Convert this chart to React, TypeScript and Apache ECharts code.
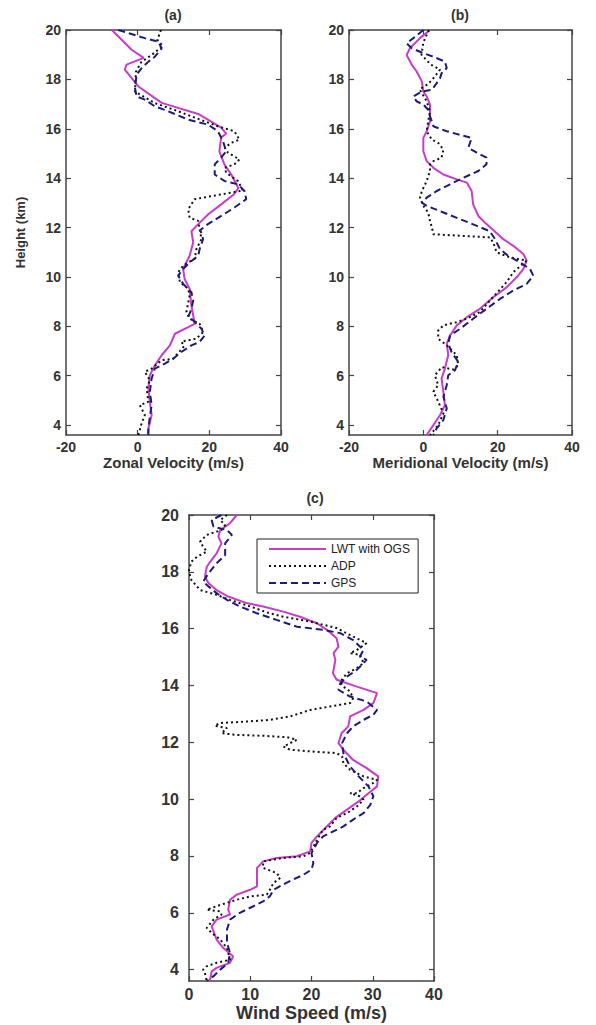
import React, { useEffect, useRef } from "react";
import * as echarts from "echarts";

const SERIES_NAMES = ["LWT with OGS", "ADP", "GPS"];
const HEIGHT_TICKS = [4, 6, 8, 10, 12, 14, 16, 18, 20];
const PANEL_TITLES = ["(a)", "(b)", "(c)"];
const X_NAMES = ["Zonal Velocity (m/s)", "Meridional Velocity (m/s)", "Wind Speed (m/s)"];
const Y_NAME = "Height (km)";

// [velocity (m/s), height (km)]
const zonalLWT: number[][] = [
  [-7.2, 20], [-1.7, 19.2], [1.7, 18.87], [-3.1, 18.6], [-3.6, 18.4], [-2.5, 18.2], [0.3, 17.7], [6.7, 17.05],
  [16.9, 16.6], [23.3, 16.05], [24.7, 15.8], [23.3, 15.65], [22.8, 15.08], [24.2, 14.56], [26.1, 14.15],
  [28.1, 13.6], [26.9, 13.35], [23.3, 12.94], [19.7, 12.54], [16.9, 12.14], [15, 11.85], [15.5, 11.4],
  [14.5, 10.86], [12.7, 10.32], [13.1, 9.92], [14.5, 9.52], [15, 8.84], [15.5, 8.44], [15.9, 8.1], [14.1, 7.97],
  [10.4, 7.7], [9, 7.23], [6.7, 6.83], [4.8, 6.42], [3.4, 6.02], [3, 5.48], [3.4, 4.95], [3.9, 4.4], [3, 3.87], [2.8, 3.6],
];
const zonalADP: number[][] = [
  [6.5, 20], [5.5, 19.6], [7, 19.35], [4, 19.0], [1, 18.7], [-0.5, 18.3], [-0.75, 17.5], [4.8, 17.04], [11.3, 16.71],
  [18.7, 16.3], [22.4, 16.1], [27, 15.9], [28.4, 15.56], [26.1, 15.43], [24.3, 15.23], [25.2, 15.03], [28.4, 14.76],
  [27, 14.56], [24.3, 14.42], [24.7, 14.22], [28, 13.88], [29.4, 13.5], [15.9, 13.15], [14.1, 12.74], [14.5, 12.4],
  [16.9, 12.27], [17.3, 11.94], [17.8, 11.53], [16.4, 11.13], [15.9, 10.73], [12.7, 10.46], [11.3, 10.19], [11.8, 9.79],
  [14.1, 9.52], [14.5, 9.25], [13.6, 8.58], [14.5, 8.31], [17.3, 8.1], [18.3, 7.77], [16.4, 7.5], [12.2, 7.38], [13, 7.2],
  [9.9, 6.69], [6.7, 6.63], [3.9, 6.29], [2, 6.16], [3.4, 5.82], [2.5, 5.48], [3, 4.95], [0.6, 4.81], [2, 4.41],
  [1.1, 4.07], [0.2, 3.6],
];
const zonalGPS: number[][] = [
  [-5.4, 20], [2, 19.67], [5.75, 19.53], [6.7, 19.26], [4.8, 18.92], [3, 18.72], [1.1, 18.46], [-0.3, 18.19],
  [-0.75, 17.65], [-0.3, 17.31], [2, 17.18], [4.8, 16.91], [8.5, 16.71], [14.1, 16.37], [19.6, 16.17], [22.4, 15.9],
  [23.8, 15.5], [24.7, 15.09], [23.3, 14.83], [21.5, 14.56], [21.5, 14.15], [24.3, 13.88], [28, 13.75], [29.8, 13.48],
  [30.3, 13.15], [27, 12.81], [23.3, 12.47], [19.6, 12.14], [17.5, 11.9], [18.25, 11.53], [17.3, 11.13], [16.9, 10.86],
  [14.5, 10.59], [12.7, 10.32], [11.3, 10.05], [12.7, 9.72], [15, 9.38], [15.5, 9.04], [15, 8.71], [14.1, 8.37],
  [15.5, 8.24], [17.8, 7.9], [18.7, 7.63], [17.3, 7.37], [15, 7.23], [12.2, 6.96], [9.9, 6.69], [7.6, 6.49], [4.8, 6.29],
  [3.9, 5.89], [3.4, 5.35], [3.9, 4.81], [3.4, 4.34], [3, 3.87], [3, 3.6],
];

const merLWT: number[][] = [
  [1.8, 20], [-0.9, 19.67], [-3.6, 19.26], [-4.5, 18.99], [-3.1, 18.59], [-1.8, 18.32], [-0.4, 17.92], [0, 17.51],
  [0.9, 17.31], [1.8, 16.98], [1.8, 16.3], [0.9, 15.9], [0, 15.63], [0, 15.09], [0.9, 14.69], [2.7, 14.42], [5.4, 14.15],
  [9, 13.95], [11.7, 13.82], [13, 13.48], [13.4, 12.94], [14.8, 12.47], [17, 12.14], [18.8, 11.9], [21.5, 11.53],
  [24.2, 11.26], [26.9, 10.93], [27.8, 10.66], [26.9, 10.32], [25.5, 10.05], [22.4, 9.58], [18.8, 9.18], [15.2, 8.71],
  [11.7, 8.37], [9, 8.04], [7.2, 7.63], [6.3, 7.3], [6.7, 6.83], [5.8, 6.29], [4.9, 5.89], [5.4, 5.35], [5.8, 4.81],
  [4.5, 4.41], [2.7, 4.0], [0.9, 3.6],
];
const merADP: number[][] = [
  [1.5, 20], [0, 19.5], [-0.5, 19.0], [2, 18.6], [4.5, 18.4], [3, 18.1], [1.2, 17.8], [-1, 17.6], [0.9, 17.11],
  [1.8, 16.7], [1.3, 16.3], [0.9, 15.9], [2.3, 15.56], [4, 15.43], [5.4, 15.16], [4.9, 14.83], [2.7, 14.69], [1.8, 14.56],
  [1.8, 14.29], [0.9, 13.88], [-0.4, 13.48], [-0.9, 13.21], [0, 12.88], [1.3, 12.61], [1.8, 12.27], [2.3, 12.0],
  [2.7, 11.73], [17.9, 11.6], [18.8, 11.4], [19.7, 11.0], [23.3, 10.79], [27.8, 10.66], [24.2, 10.19], [22.4, 9.79],
  [17.9, 9.04], [15.2, 8.58], [11.7, 8.31], [9, 8.17], [5.4, 8.04], [4, 7.83], [4, 7.5], [6.3, 7.23], [9, 6.83],
  [9.4, 6.42], [8.1, 6.25], [5, 6.35], [3.1, 6.02], [4, 5.62], [2.7, 5.35], [4, 4.95], [5.4, 4.48], [4, 4.0], [1.8, 3.6],
];
const merGPS: number[][] = [
  [0, 20], [-2.7, 19.67], [-4.5, 19.46], [-3.1, 19.26], [0, 19.06], [2.7, 18.92], [5.8, 18.72], [6.3, 18.46],
  [4.9, 18.25], [4.5, 18.05], [3.6, 17.85], [2.3, 17.58], [-0.4, 17.51], [-2.7, 17.31], [-1.8, 17.11], [0, 16.98],
  [1.3, 16.77], [1.8, 16.5], [2.3, 16.3], [2.7, 16.1], [6.3, 15.9], [13, 15.63], [12.1, 15.23], [14.4, 15.03],
  [17, 14.83], [17, 14.56], [14.8, 14.29], [10.8, 14.02], [7.2, 13.75], [3.6, 13.48], [0.9, 13.21], [-0.4, 13.01],
  [0.9, 12.88], [5.4, 12.61], [9.9, 12.34], [14.4, 12.07], [17.9, 11.85], [19.3, 11.53], [20.6, 11.13], [22.8, 10.86],
  [26, 10.59], [28.7, 10.32], [29.6, 10.05], [27.8, 9.72], [24.2, 9.45], [20.6, 9.11], [17, 8.71], [13.4, 8.31],
  [9.9, 7.9], [7.2, 7.63], [6.7, 7.3], [7.6, 6.96], [9.4, 6.56], [8.5, 6.22], [6.7, 6.02], [6.3, 5.62], [5.4, 5.15],
  [6.3, 4.68], [5.4, 4.21], [3.6, 3.87], [2.7, 3.6],
];

const wsLWT: number[][] = [
  [7.8, 20], [6.7, 19.71], [5.1, 19.47], [4.8, 19.24], [5.3, 19.0], [4.5, 18.65], [3.7, 18.42], [2.9, 18.18],
  [2.6, 17.83], [3.2, 17.6], [4.5, 17.36], [6.4, 17.13], [9.4, 16.9], [12.1, 16.78], [15.4, 16.6], [18.1, 16.42],
  [20.9, 16.19], [22.5, 15.96], [24.1, 15.66], [24.4, 15.37], [23.6, 15.14], [23.9, 14.9], [23.5, 14.43], [24.1, 14.2],
  [27.4, 13.96], [30.7, 13.73], [30.1, 13.38], [28.5, 13.14], [26.3, 12.91], [26, 12.56], [24.9, 12.32], [24.4, 11.97],
  [25.2, 11.74], [26.8, 11.38], [29, 11.09], [30.9, 10.8], [30.7, 10.45], [29.3, 10.21], [27.7, 9.92], [25.8, 9.63],
  [23.9, 9.34], [22.5, 9.04], [20.9, 8.69], [20, 8.46], [19.8, 8.16], [17.6, 7.99], [14.3, 7.93], [12.1, 7.81],
  [11.1, 7.58], [11.1, 6.93], [10, 6.81], [7.8, 6.64], [6.7, 6.46], [6.4, 6.11], [6.7, 5.94], [4.5, 5.76], [3.7, 5.52],
  [4.5, 5.06], [5.6, 4.76], [7.2, 4.47], [6.7, 4.24], [4.5, 4.06], [3.7, 3.94], [3.4, 3.6],
];
const wsADP: number[][] = [
  [6.2, 20], [5.1, 19.82], [5.9, 19.65], [5.3, 19.47], [2.9, 19.3], [1.8, 19.06], [2.3, 18.89], [2.9, 18.71],
  [1.3, 18.53], [0.4, 18.36], [0, 18.07], [0.2, 17.83], [0.4, 17.71], [1.8, 17.36], [4.5, 17.19], [6.7, 17.01],
  [10, 16.78], [13.2, 16.54], [15.4, 16.42], [19.8, 16.25], [24.1, 16.02], [26.8, 15.72], [29, 15.49], [27.4, 15.25],
  [26.3, 15.14], [27.9, 15.08], [28.5, 14.79], [27.4, 14.61], [25.8, 14.43], [24.7, 14.14], [25.2, 13.96], [26.3, 13.79],
  [26.8, 13.55], [26.3, 13.38], [23, 13.26], [19.8, 13.14], [16.5, 12.91], [13.2, 12.79], [9.4, 12.73], [5.1, 12.68],
  [4.2, 12.58], [6.2, 12.5], [5.3, 12.32], [7.8, 12.26], [12.1, 12.23], [16, 12.18], [17.6, 12.09], [16.5, 11.97],
  [15.4, 11.85], [16.5, 11.74], [19.8, 11.68], [24.1, 11.62], [25, 11.5], [25.2, 11.27], [26.3, 11.03], [28.5, 10.8],
  [30.7, 10.68], [30.1, 10.57], [28.5, 10.39], [27.4, 10.21], [26.3, 10.21], [27.9, 10.1], [28.5, 9.98], [27.4, 9.74],
  [25.8, 9.51], [24.1, 9.34], [23, 9.04], [21.9, 8.92], [20.9, 8.57], [19.8, 8.11], [18.7, 7.99], [15.4, 7.93],
  [12.1, 7.81], [12.1, 7.58], [14.3, 7.4], [14.9, 7.23], [13.8, 7.05], [13.2, 6.81], [12.7, 6.64], [10, 6.58],
  [7.8, 6.46], [5.3, 6.29], [2.9, 6.11], [5.1, 6.05], [5.3, 5.94], [4, 5.76], [2.9, 5.47], [3.7, 5.29], [5.1, 5.06],
  [6.2, 4.76], [6.7, 4.35], [4.5, 4.24], [2.9, 4.12], [2.3, 4.0], [2.6, 3.88], [2.9, 3.6],
];
const wsGPS: number[][] = [
  [5.3, 20], [3.7, 19.82], [4, 19.59], [6.2, 19.47], [7, 19.3], [5.9, 19.0], [5.9, 18.59], [4.5, 18.3], [3.2, 17.95],
  [2.3, 17.65], [3.2, 17.48], [4.5, 17.25], [6.2, 17.01], [8.3, 16.78], [11.1, 16.54], [14.3, 16.31], [17.6, 16.07],
  [21.9, 15.96], [24.7, 15.84], [26.8, 15.6], [28.5, 15.25], [27.9, 15.02], [29, 14.9], [27.4, 14.55], [25.8, 14.31],
  [24.7, 14.08], [24.4, 13.85], [26.3, 13.61], [29, 13.44], [30.7, 13.14], [30.1, 12.97], [28.5, 12.79], [26.8, 12.56],
  [25.8, 12.32], [25, 11.97], [25.2, 11.62], [26.3, 11.15], [27.7, 10.8], [29.3, 10.45], [30.1, 10.1], [29.6, 9.8],
  [28.5, 9.51], [26.8, 9.28], [25.2, 9.04], [21.9, 8.69], [20.9, 8.46], [20, 8.1], [20.3, 7.75], [20, 7.52],
  [18.7, 7.34], [17, 7.17], [15.4, 7.0], [13.8, 6.81], [13.2, 6.58], [12.1, 6.4], [10.5, 6.23], [8.3, 6.0], [6.7, 5.76],
  [6.2, 5.41], [6.2, 4.94], [6.7, 4.59], [6.4, 4.24], [5.1, 4.0], [4, 3.77], [2.9, 3.6],
];

const PANEL_DATA = [
  [zonalLWT, zonalADP, zonalGPS],
  [merLWT, merADP, merGPS],
  [wsLWT, wsADP, wsGPS],
];
const X_RANGES = [
  { min: -20, max: 40, interval: 20 },
  { min: -20, max: 40, interval: 20 },
  { min: 0, max: 40, interval: 10 },
];

const FONT = "'Liberation Sans', Arial, sans-serif";
const AXIS_COLOR = "#444";
const LINE_STYLES = [
  { color: "#c83cc8", width: 2, type: "solid" as any },
  { color: "#111111", width: 2, type: [2, 3] as any },
  { color: "#1c1c78", width: 2, type: [7, 4] as any },
];

export default function App() {
  const ref = useRef<HTMLDivElement>(null);
  useEffect(() => {
    if (!ref.current) return;
    const chart = echarts.init(ref.current, undefined, { renderer: "svg" });

    const grids = [
      { left: 66, top: 30, width: 215, height: 405 },
      { left: 349, top: 30, width: 223, height: 405 },
      { left: 189, top: 515, width: 245, height: 466 },
    ];
    const labelSize = [14, 14, 16];
    const nameSize = [15, 15, 18];

    const axisLine = { onZero: false, lineStyle: { color: AXIS_COLOR, width: 1.5 } };
    const tick = { inside: true, length: 5, lineStyle: { color: AXIS_COLOR, width: 1.2 } };

    const xAxis: any[] = [];
    const yAxis: any[] = [];
    for (let i = 0; i < 3; i++) {
      xAxis.push({
        type: "value", gridIndex: i, position: "bottom", ...X_RANGES[i],
        axisLine, axisTick: tick, splitLine: { show: false },
        axisLabel: { margin: 5, color: "#333", fontWeight: "bold", fontFamily: FONT, fontSize: labelSize[i] },
        name: X_NAMES[i], nameLocation: "middle", nameGap: i === 2 ? 23 : 20,
        nameTextStyle: { color: "#333", fontWeight: "bold", fontFamily: FONT, fontSize: nameSize[i] },
      });
    }
    for (let i = 0; i < 3; i++) {
      xAxis.push({
        type: "value", gridIndex: i, position: "top", ...X_RANGES[i],
        axisLine, axisTick: tick, splitLine: { show: false }, axisLabel: { show: false },
      });
    }
    for (let i = 0; i < 3; i++) {
      yAxis.push({
        type: "value", gridIndex: i, position: "left", min: 3.6, max: 20,
        axisLine, axisTick: { ...tick, customValues: HEIGHT_TICKS }, splitLine: { show: false },
        axisLabel: {
          customValues: HEIGHT_TICKS, margin: i === 2 ? 10 : 5, color: "#333", fontWeight: "bold",
          fontFamily: FONT, fontSize: labelSize[i],
        },
        name: i === 0 ? Y_NAME : "", nameLocation: "middle", nameGap: 39,
        nameTextStyle: { color: "#333", fontWeight: "bold", fontFamily: FONT, fontSize: 13 },
      });
    }
    for (let i = 0; i < 3; i++) {
      yAxis.push({
        type: "value", gridIndex: i, position: "right", min: 3.6, max: 20,
        axisLine, axisTick: { ...tick, customValues: HEIGHT_TICKS }, splitLine: { show: false },
        axisLabel: { show: false },
      });
    }

    const series: any[] = [];
    for (let p = 0; p < 3; p++) {
      for (let s = 0; s < 3; s++) {
        series.push({
          type: "line", name: SERIES_NAMES[s], xAxisIndex: p, yAxisIndex: p,
          data: PANEL_DATA[p][s], showSymbol: false, symbol: "none", clip: true,
          lineStyle: LINE_STYLES[s], itemStyle: { color: LINE_STYLES[s].color }, z: 2 + s,
        });
      }
    }

    const titleCenters = [
      { x: 173, y: 15 },
      { x: 460, y: 15 },
      { x: 315, y: 498 },
    ];

    chart.setOption({
      animation: false,
      backgroundColor: "#ffffff",
      grid: grids,
      xAxis,
      yAxis,
      series,
      legend: {
        data: SERIES_NAMES, orient: "vertical", left: 257, top: 539,
        padding: [4, 8, 4, 11], itemWidth: 57, itemHeight: 10, itemGap: 5,
        borderColor: "#222", borderWidth: 1, backgroundColor: "#fff",
        itemStyle: { opacity: 0 },
        textStyle: { fontFamily: FONT, fontSize: 12, color: "#222" },
        selectedMode: false,
      },
      graphic: PANEL_TITLES.map((t, i) => ({
        type: "text", x: titleCenters[i].x, y: titleCenters[i].y,
        style: {
          text: t, fontFamily: FONT, fontWeight: "bold", fontSize: 14, fill: "#333",
          textAlign: "center", textVerticalAlign: "middle",
        },
      })),
    });
    return () => chart.dispose();
  }, []);

  return (
    <div
      ref={ref}
      style={{ position: "absolute", left: 0, top: 0, width: 596, height: 1025, background: "#fff" }}
    />
  );
}
